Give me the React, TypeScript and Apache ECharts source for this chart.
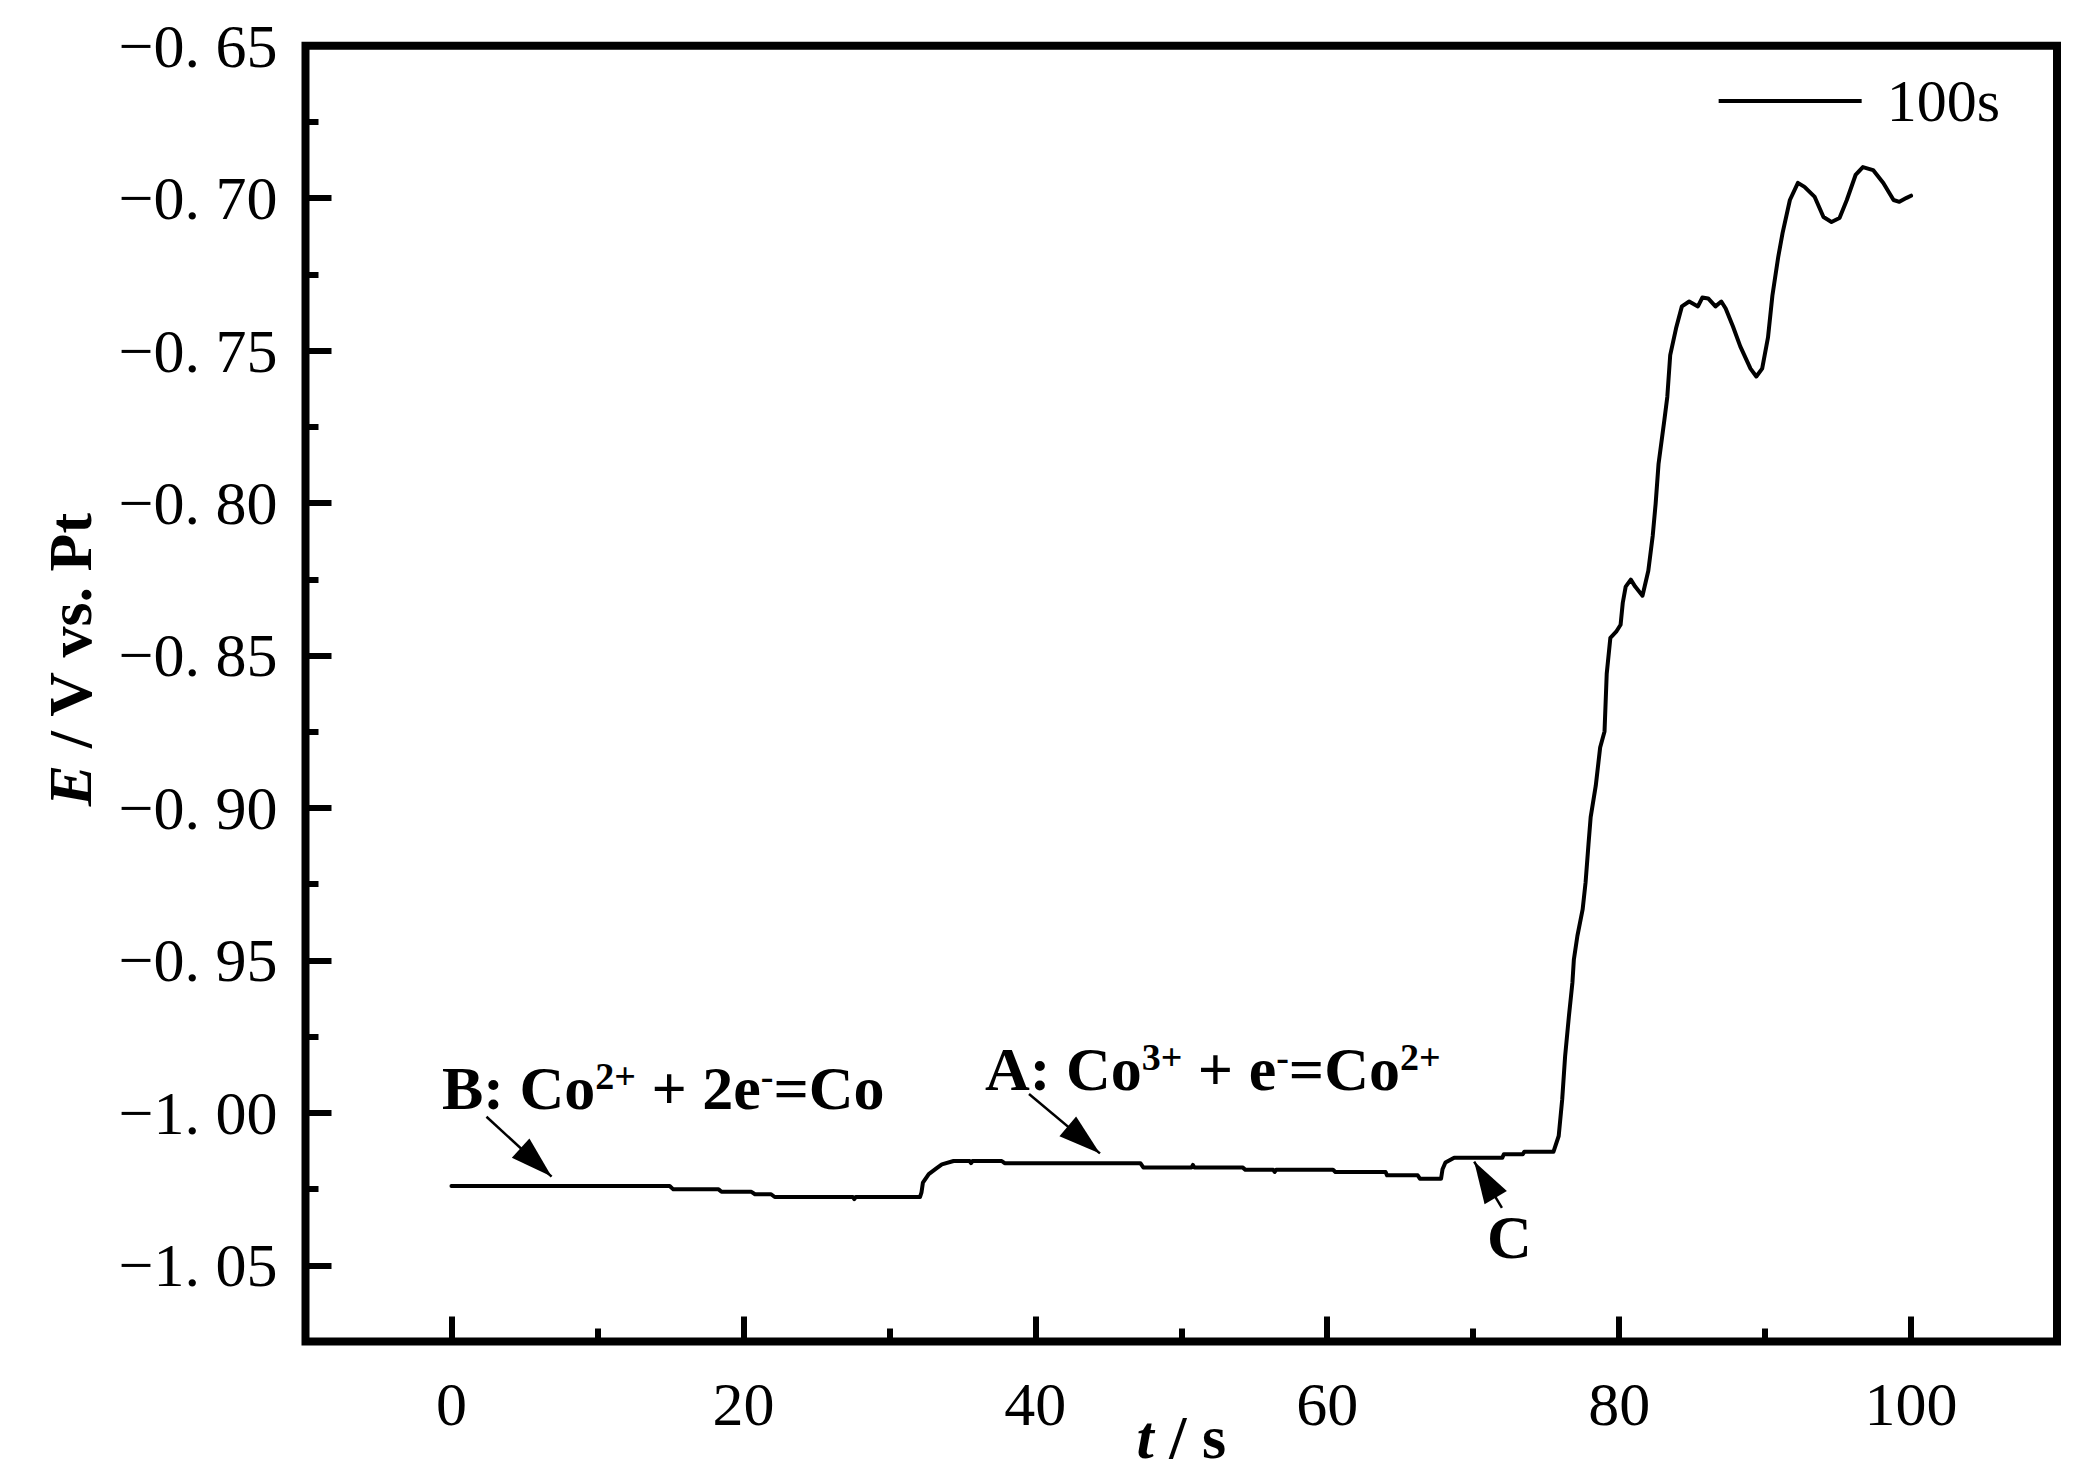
import React, { useEffect, useRef } from 'react';
import * as echarts from 'echarts';

const FONT = "'Liberation Serif', 'Times New Roman', Times, serif";

// time (s)
const timeS = [
  0, 14.95, 15.2, 18.3, 18.5, 20.55, 20.8, 21.9, 22.15, 27.5, 27.6, 27.7, 32.1, 32.2, 32.3, 32.7, 33.2,
  33.6, 34.4, 35.5, 35.6, 35.7, 37.7, 37.9, 47.2, 47.4, 50.7, 50.8, 50.9, 54.2, 54.4, 56.3, 56.4, 56.5,
  60.4, 60.56, 64.0, 64.1, 66.2, 66.35, 67.8, 67.9, 68.1, 68.7, 72.0, 72.1, 73.4, 73.5, 75.5, 75.86,
  76.1, 76.3, 76.56, 76.8, 76.9, 77.14, 77.5, 77.7, 77.9, 78.05, 78.4, 78.7, 79.0, 79.15, 79.4, 79.8,
  80.1, 80.25, 80.45, 80.8, 81.1, 81.6, 82.0, 82.3, 82.5, 82.7, 83.1, 83.3, 83.5, 83.9, 84.3, 84.8,
  85.4, 85.7, 86.1, 86.6, 87.0, 87.3, 87.8, 88.3, 89.0, 89.4, 89.8, 90.2, 90.5, 90.9, 91.2, 91.7,
  92.25, 92.7, 93.4, 94.0, 94.55, 95.1, 95.6, 96.2, 96.7, 97.4, 98.1, 98.8, 99.2, 99.7, 100,
];

// potential E (V vs. Pt)
const potentialV = [
  -1.024, -1.024, -1.0251, -1.0251, -1.0259, -1.0259, -1.0267, -1.0267, -1.0276, -1.0276, -1.0283,
  -1.0276, -1.0276, -1.0262, -1.0229, -1.0201, -1.0183,
  -1.0169, -1.0158, -1.0158, -1.0165, -1.0158, -1.0158, -1.0165, -1.0165, -1.0179, -1.0179, -1.0171,
  -1.0179, -1.0179, -1.0187, -1.0187, -1.0194, -1.0187,
  -1.0187, -1.0194, -1.0194, -1.0205, -1.0205, -1.0216, -1.0216, -1.0185, -1.0163, -1.0147, -1.0147,
  -1.0136, -1.0136, -1.0128, -1.0128, -1.0076,
  -0.9956, -0.9814, -0.9683, -0.9573, -0.9497, -0.942, -0.9333, -0.9245, -0.912, -0.903, -0.8927,
  -0.8802, -0.8749, -0.856, -0.8442, -0.8422,
  -0.8399, -0.8327, -0.8274, -0.8251, -0.8274, -0.8304, -0.8222, -0.8108, -0.8003, -0.7872, -0.7728,
  -0.7652, -0.7515, -0.7427, -0.7355, -0.7339,
  -0.7355, -0.7326, -0.7329, -0.7355, -0.7339, -0.7362, -0.7421, -0.7486, -0.7559, -0.7585, -0.7559,
  -0.7457, -0.732, -0.7193, -0.7114, -0.7006,
  -0.695, -0.6963, -0.6996, -0.7062, -0.7078, -0.7065, -0.7006, -0.6924, -0.6898, -0.6908, -0.695,
  -0.7006, -0.7012, -0.6999, -0.6992,
];

const seriesName = '100s';

const xMajorTicks = [0, 20, 40, 60, 80, 100];
const xMinorTicks = [10, 30, 50, 70, 90];
const yMajorTicks = [-1.05, -1.0, -0.95, -0.9, -0.85, -0.8, -0.75, -0.7, -0.65];
const yMinorTicks = [-1.025, -0.975, -0.925, -0.875, -0.825, -0.775, -0.725, -0.675];

// annotation arrows: [tail, tip] in data coordinates (t, E)
const arrowB = [[2.4, -1.0013], [6.86, -1.0209]];
const arrowA = [[39.57, -0.9938], [44.43, -1.0133]];
const arrowC = [[71.97, -1.0312], [70.07, -1.016]];

const X_MIN = -10;
const X_MAX = 110;
const Y_MIN = -1.075;
const Y_MAX = -0.65;

const fmtY = (v: number) => (v < 0 ? '\u2212' : '') + Math.abs(v).toFixed(2).replace('.', '. ');

const labelRich = {
  m: { fontFamily: FONT, fontSize: 62, fontWeight: 'bold', lineHeight: 62, color: '#000' },
  s: { fontFamily: FONT, fontSize: 38, fontWeight: 'bold', lineHeight: 32, verticalAlign: 'top', color: '#000' },
  i: { fontFamily: FONT, fontSize: 62, fontWeight: 'bold', fontStyle: 'italic', lineHeight: 62, color: '#000' },
};

function arrowLine(a: number[][]) {
  return [
    { coord: a[0], symbol: 'none' },
    { coord: a[1], symbol: 'triangle', symbolSize: [26, 42], symbolOffset: [0, 21] },
  ];
}

export default function App() {
  const ref = useRef<HTMLDivElement>(null);

  useEffect(() => {
    document.body.style.margin = '0';
    const chart = echarts.init(ref.current as HTMLDivElement, null, { renderer: 'svg' });

    const tickLabelStyle = { fontFamily: FONT, fontSize: 62, color: '#000', lineHeight: 62 };
    const hiddenLine = { show: false, onZero: false };

    const option: any = {
      animation: false,
      backgroundColor: '#fff',
      grid: {
        left: 305.5,
        top: 45.7,
        right: 32,
        bottom: 139.5,
        show: true,
        borderColor: '#000',
        borderWidth: 8,
        backgroundColor: 'transparent',
        containLabel: false,
        outerBoundsMode: 'none',
      },
      legend: {
        show: true,
        data: [seriesName],
        right: 84,
        top: 66,
        icon: 'rect',
        itemWidth: 143,
        itemHeight: 4,
        textStyle: { fontFamily: FONT, fontSize: 60, color: '#000', padding: [0, 0, 0, 20] },
      },
      xAxis: [
        {
          type: 'value',
          position: 'bottom',
          min: X_MIN,
          max: X_MAX,
          axisLine: hiddenLine,
          splitLine: { show: false },
          axisTick: { show: true, inside: true, length: 25, customValues: xMajorTicks, lineStyle: { color: '#000', width: 6 } },
          axisLabel: { show: true, customValues: xMajorTicks, margin: 31, ...tickLabelStyle },
          name: '{i|t}{m| / s}',
          nameLocation: 'middle',
          nameGap: 64,
          nameMoveOverlap: false,
          nameTextStyle: { rich: labelRich },
        },
        {
          type: 'value',
          position: 'bottom',
          min: X_MIN,
          max: X_MAX,
          axisLine: hiddenLine,
          splitLine: { show: false },
          axisTick: { show: true, inside: true, length: 13, customValues: xMinorTicks, lineStyle: { color: '#000', width: 6 } },
          axisLabel: { show: false },
        },
      ],
      yAxis: [
        {
          type: 'value',
          position: 'left',
          min: Y_MIN,
          max: Y_MAX,
          axisLine: hiddenLine,
          splitLine: { show: false },
          axisTick: { show: true, inside: true, length: 26, customValues: yMajorTicks, lineStyle: { color: '#000', width: 6 } },
          axisLabel: { show: true, customValues: yMajorTicks, margin: 28, formatter: fmtY, ...tickLabelStyle },
        },
        {
          type: 'value',
          position: 'left',
          min: Y_MIN,
          max: Y_MAX,
          axisLine: hiddenLine,
          splitLine: { show: false },
          axisTick: { show: true, inside: true, length: 13, customValues: yMinorTicks, lineStyle: { color: '#000', width: 6 } },
          axisLabel: { show: false },
        },
      ],
      series: [
        {
          name: seriesName,
          type: 'line',
          xAxisIndex: 0,
          yAxisIndex: 0,
          data: timeS.map((t, i) => [t, potentialV[i]]),
          showSymbol: false,
          symbol: 'none',
          smooth: false,
          lineStyle: { color: '#000', width: 4, join: 'round', cap: 'round' },
          itemStyle: { color: '#000' },
          emphasis: { disabled: true },
          markLine: {
            silent: true,
            animation: false,
            label: { show: false },
            emphasis: { disabled: true },
            lineStyle: { color: '#000', width: 2.5, type: 'solid' },
            itemStyle: { color: '#000' },
            data: [arrowLine(arrowB), arrowLine(arrowA), arrowLine(arrowC)],
          },
        },
      ],
      graphic: [
        {
          type: 'text',
          x: 442,
          y: 1088,
          silent: true,
          style: {
            text: '{m|B: Co}{s|2+}{m| + 2e}{s|-}{m|=Co}',
            rich: labelRich,
            fill: '#000',
            align: 'left',
            verticalAlign: 'middle',
          },
        },
        {
          type: 'text',
          x: 985,
          y: 1069,
          silent: true,
          style: {
            text: '{m|A: Co}{s|3+}{m| + e}{s|-}{m|=Co}{s|2+}',
            rich: labelRich,
            fill: '#000',
            align: 'left',
            verticalAlign: 'middle',
          },
        },
        {
          type: 'text',
          x: 1509.5,
          y: 1236.5,
          silent: true,
          style: {
            text: '{m|C}',
            rich: labelRich,
            fill: '#000',
            align: 'center',
            verticalAlign: 'middle',
          },
        },
        {
          type: 'text',
          x: 70,
          y: 659,
          rotation: Math.PI / 2,
          silent: true,
          style: {
            text: '{i|E}{m| / V vs. Pt}',
            rich: labelRich,
            fill: '#000',
            align: 'center',
            verticalAlign: 'middle',
          },
        },
      ],
    };

    chart.setOption(option);
    return () => chart.dispose();
  }, []);

  return <div ref={ref} style={{ width: 2089, height: 1481, background: '#fff' }} />;
}
